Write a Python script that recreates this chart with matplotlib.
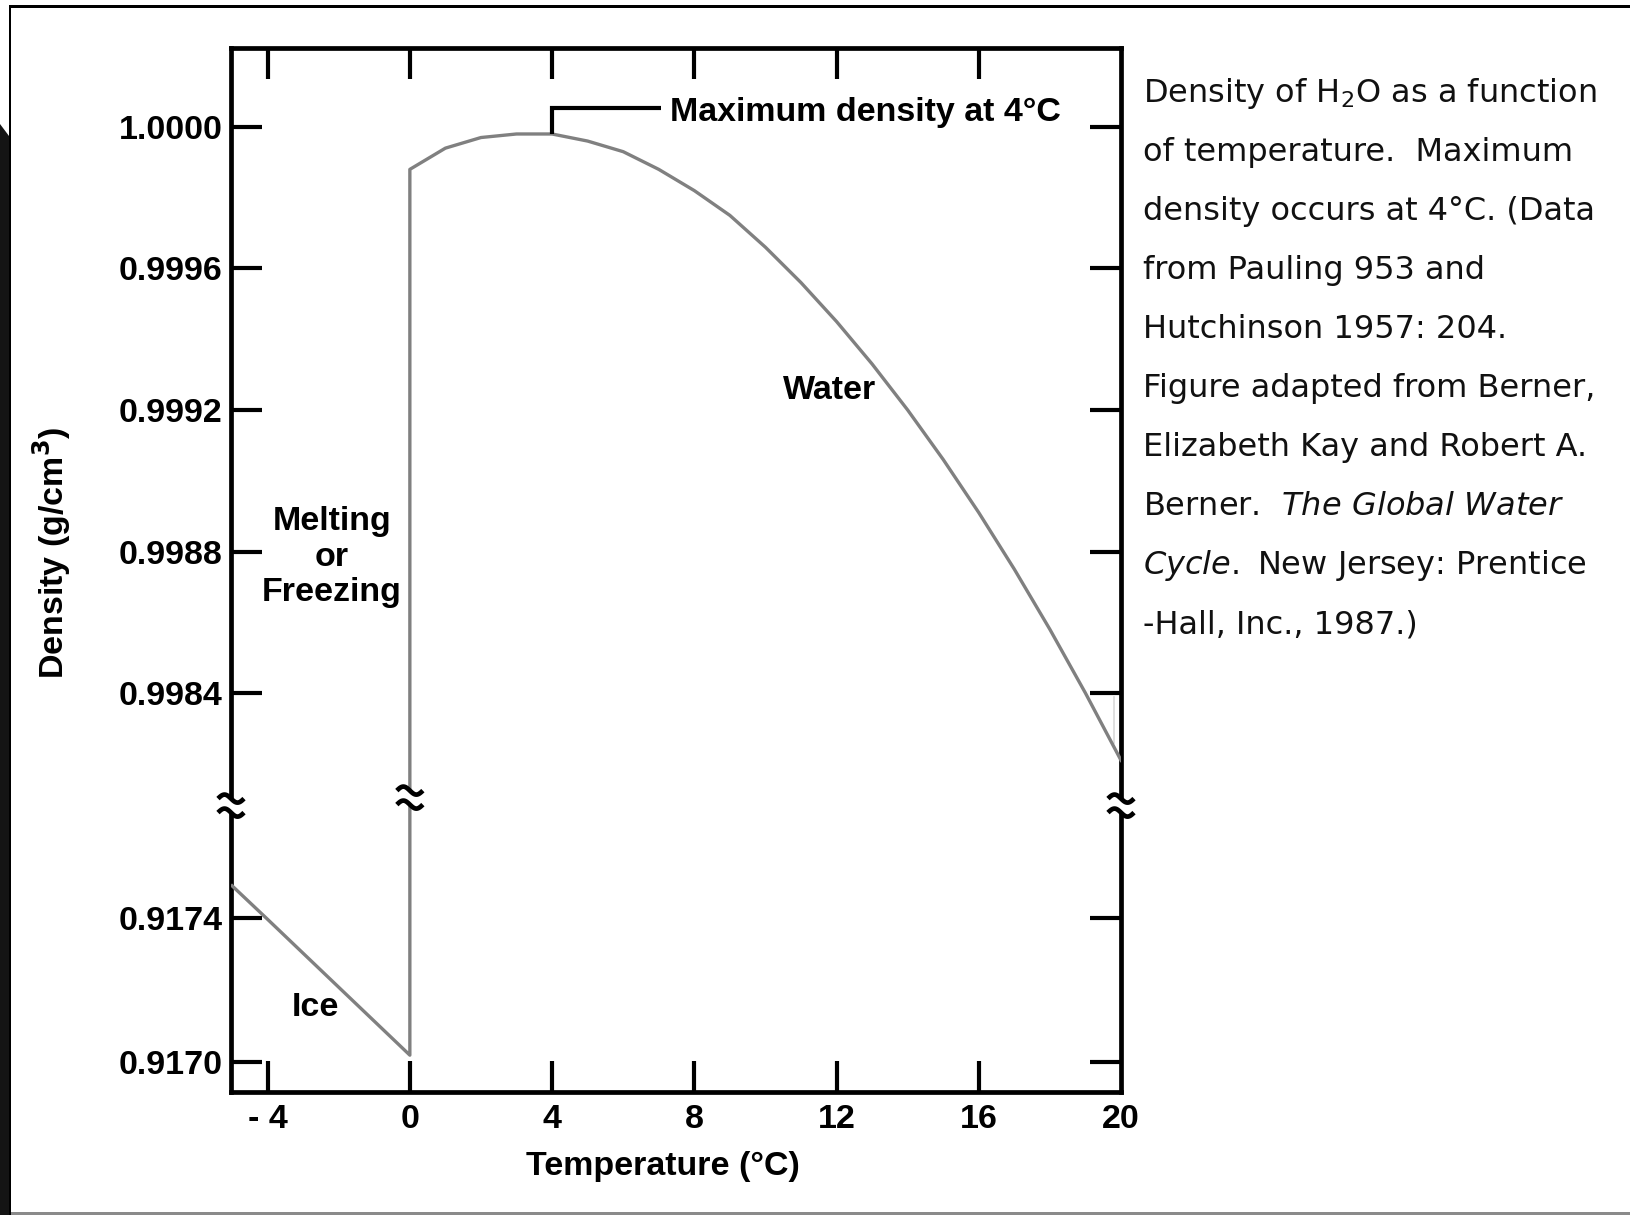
import numpy as np
import matplotlib
matplotlib.use("Agg")
import matplotlib.pyplot as plt
from matplotlib.lines import Line2D
from matplotlib.patches import Rectangle, Polygon

# ---------------- data ----------------
ice_temp = [-5, -4, -3, -2, -1, 0]
ice_density = [0.917489, 0.917396, 0.917302, 0.917208, 0.917114, 0.917020]

water_temp = [0, 1, 2, 3, 4, 5, 6, 7, 8, 9, 10, 11, 12, 13, 14, 15, 16, 17, 18, 19, 20]
water_density = [0.99988, 0.99994, 0.99997, 0.99998, 0.99998, 0.99996, 0.99993,
                 0.99988, 0.99982, 0.99975, 0.99966, 0.99956, 0.99945, 0.99933,
                 0.99920, 0.99906, 0.99891, 0.99875, 0.99858, 0.99840, 0.99821]

x_ticks = [-4, 0, 4, 8, 12, 16, 20]
x_ticklabels = ["- 4", "0", "4", "8", "12", "16", "20"]
y_ticks_upper = [0.9984, 0.9988, 0.9992, 0.9996, 1.0000]
y_ticks_lower = [0.9170, 0.9174]

caption_lines = [
    r"Density of H$_2$O as a function",
    "of temperature.  Maximum",
    "density occurs at 4°C. (Data",
    "from Pauling 953 and",
    "Hutchinson 1957: 204.",
    "Figure adapted from Berner,",
    "Elizabeth Kay and Robert A.",
    r"Berner.  $\it{The\ Global\ Water}$",
    r"$\it{Cycle.}$ New Jersey: Prentice",
    "-Hall, Inc., 1987.)",
]

# ---------------- layout ----------------
W, H = 1630, 1215
plt.rcParams["mathtext.fontset"] = "dejavusans"
fig = plt.figure(figsize=(W / 100, H / 100), dpi=100)
fig.patch.set_facecolor("white")


def fx(px):
    return px / W


def fy(py):
    return 1 - py / H


L, R, T, B = 231, 1121, 48, 1092
BRK = 805.6
ax_top = fig.add_axes([fx(L), fy(BRK), (R - L) / W, (BRK - T) / H])
ax_bot = fig.add_axes([fx(L), fy(B), (R - L) / W, (B - BRK) / H])

xlim = (-5.03, 20)
ylim_top = (0.998082, 1.000223)
ylim_bot = (0.916918, 0.917711)

CHART_FONT = "Liberation Sans"
FS = 24.5
LINE_GREY = "#808080"
SPINE_LW = 3.4
TICK_LEN = 22
TICK_W = 3.0

all_temp = ice_temp + water_temp
all_density = ice_density + water_density

for ax in (ax_top, ax_bot):
    ax.plot(all_temp, all_density, color=LINE_GREY, lw=2.4, solid_joinstyle="round", zorder=3)
    ax.set_xlim(*xlim)
    ax.set_facecolor("none")
    for s in ax.spines.values():
        s.set_linewidth(SPINE_LW)
        s.set_color("black")
    ax.tick_params(axis="both", direction="in", length=TICK_LEN, width=TICK_W,
                   colors="black", left=True, right=True)
    ax.set_xticks(x_ticks)

# upper
ax_top.set_ylim(*ylim_top)
ax_top.spines["bottom"].set_visible(False)
ax_top.set_yticks(y_ticks_upper)
ax_top.set_yticklabels([f"{v:.4f}" for v in y_ticks_upper])
ax_top.tick_params(axis="x", top=True, bottom=False, labeltop=False, labelbottom=False)
ax_top.set_xticks([t for t in x_ticks if t < 20])

# lower
ax_bot.set_ylim(*ylim_bot)
ax_bot.spines["top"].set_visible(False)
ax_bot.set_yticks(y_ticks_lower)
ax_bot.set_yticklabels([f"{v:.4f}" for v in y_ticks_lower])
ax_bot.tick_params(axis="x", top=False, bottom=True, pad=9)
ax_bot.set_xticks(x_ticks)
ax_bot.set_xticklabels(x_ticklabels)
ax_bot.xaxis.get_major_ticks()[-1].tick1line.set_visible(False)

for ax in (ax_top, ax_bot):
    ax.tick_params(axis="y", pad=6)
    for lab in ax.get_xticklabels() + ax.get_yticklabels():
        lab.set_fontfamily(CHART_FONT)
        lab.set_fontweight("bold")
        lab.set_fontsize(FS)

# faint grey artefact near right end of curve
ax_top.plot([19.8, 19.8], [0.99839, 0.99826], color="#d9d9d9", lw=1.2, zorder=2)

# annotation bracket "Maximum density at 4°C"
bracket_y = 1.000054
ax_top.plot([4, 4, 7.06], [water_density[4], bracket_y, bracket_y],
            color="black", lw=3.0, solid_joinstyle="miter", solid_capstyle="butt",
            zorder=4, clip_on=False)
ax_top.text(7.33, 1.0000164, "Maximum density at 4°C", fontfamily=CHART_FONT,
            fontweight="bold", fontsize=FS, ha="left", va="baseline")

ax_top.text(11.8, 0.999256, "Water", fontfamily=CHART_FONT, fontweight="bold",
            fontsize=FS, ha="center", va="center")
ax_top.text(-2.2, 0.998784, "Melting\nor\nFreezing", fontfamily=CHART_FONT,
            fontweight="bold", fontsize=FS, ha="center", va="center",
            linespacing=1.2, multialignment="center")
ax_bot.text(-2.66, 0.917151, "Ice", fontfamily=CHART_FONT, fontweight="bold",
            fontsize=FS, ha="center", va="center")

# axis labels
fig.text(fx(663), fy(1167), "Temperature (°C)", fontfamily=CHART_FONT,
         fontweight="bold", fontsize=FS, ha="center", va="center")
fig.text(fx(52), fy(553), r"Density (g/cm$^{\mathbf{3}}$)", fontfamily=CHART_FONT,
         fontweight="bold", fontsize=FS, ha="center", va="center", rotation=90)


# ---------------- axis-break marks ----------------
def break_mark(xpx, ypx, lw=3.4):
    fig.add_artist(Rectangle((fx(xpx - 10), fy(ypx + 6)), 20 / W, 12 / H,
                             transform=fig.transFigure, facecolor="white",
                             edgecolor="none", zorder=5))
    t = np.linspace(-1, 1, 40)
    for dy in (-7, 7):
        xs = fx(xpx + 13 * t)
        ys = fy(ypx + dy + 4 * np.sin(np.pi * t))
        fig.add_artist(Line2D(xs, ys, transform=fig.transFigure, color="black",
                              lw=lw, zorder=6, solid_capstyle="butt"))


x_zero_px = ax_top.transData.transform((0, ylim_top[0]))[0]
break_mark(L, BRK)
break_mark(R, BRK)
break_mark(x_zero_px, BRK - 8)

# ---------------- caption ----------------
for i, line in enumerate(caption_lines):
    fig.text(fx(1143), fy(102 + 59 * i), line, fontfamily="DejaVu Sans",
             fontsize=23, ha="left", va="baseline", color="#111111")

# ---------------- outer frame ----------------
fig.add_artist(Rectangle((fx(10), fy(8)), (W - 10) / W, 3 / H, transform=fig.transFigure,
                         facecolor="black", edgecolor="none", zorder=7))
fig.add_artist(Rectangle((fx(9), fy(1215)), 2 / W, (1215 - 5) / H, transform=fig.transFigure,
                         facecolor="black", edgecolor="none", zorder=7))
fig.add_artist(Polygon([(fx(0), fy(124)), (fx(9), fy(136)), (fx(9), fy(1215)), (fx(0), fy(1215))],
                       closed=True, transform=fig.transFigure, facecolor="#141414",
                       edgecolor="none", zorder=7))
fig.add_artist(Rectangle((fx(11), fy(1215)), (W - 11) / W, 3 / H, transform=fig.transFigure,
                         facecolor="#8a8a8a", edgecolor="none", zorder=7))

fig.savefig("out.png", dpi=100, facecolor="white")
